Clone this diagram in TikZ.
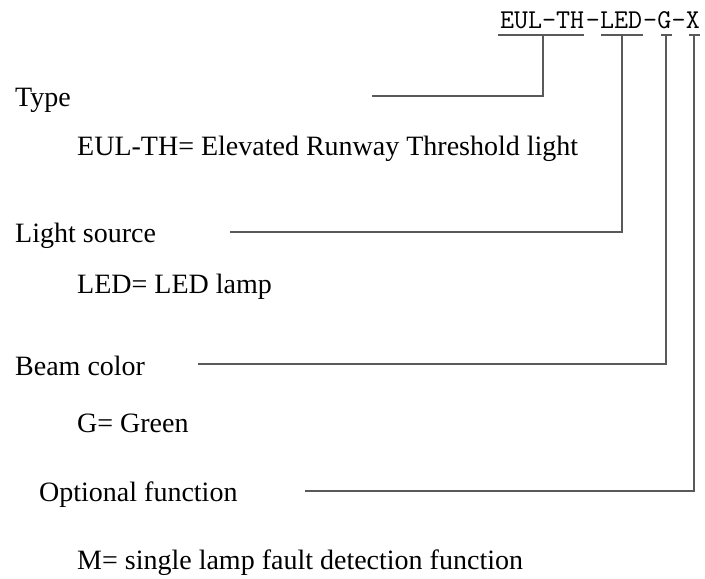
\documentclass[tikz,border=0pt]{standalone}
\usepackage{fontspec}
\setmainfont{Liberation Serif}
\usetikzlibrary{calc}

\tikzset{
  lbl/.style={anchor=base west,inner sep=0pt,font=\fontsize{28}{32}\selectfont},
  code/.style={anchor=base west,inner sep=0pt,font=\ttfamily\fontsize{27.2}{30}\selectfont},
  lead/.style={draw=black!65,line width=1.1pt}
}

\begin{document}
\begin{tikzpicture}[x=1pt,y=-1pt]
\useasboundingbox (0,0) rectangle (705,579);

% designation code
\node[code] (cType) at (500,28)   {EUL\textendash TH};
\node[code] (d1)    at (585.7,28) {\textendash};
\node[code] (cSrc)  at (600,28)   {LED};
\node[code] (d2)    at (642.8,28) {\textendash};
\node[code] (cCol)  at (657.1,28) {G};
\node[code] (d3)    at (671.4,28) {\textendash};
\node[code] (cOpt)  at (685.7,28) {X};

% labels
\node[lbl] (ty)  at (15,106)  {Type};
\node[lbl] (tyx) at (77,155)  {EUL-TH= Elevated Runway Threshold light};
\node[lbl] (ls)  at (15,242)  {Light source};
\node[lbl] (lsx) at (77,293)  {LED= LED lamp};
\node[lbl] (bc)  at (15,375)  {Beam color};
\node[lbl] (bcx) at (77,432)  {G= Green};
\node[lbl] (of)  at (39,501)  {Optional function};
\node[lbl] (ofx) at (77,569)  {M= single lamp fault detection function};

% line ends
\coordinate (tyEnd) at (372,96);
\coordinate (lsEnd) at (230,232);
\coordinate (bcEnd) at (198,364);
\coordinate (ofEnd) at (305,491);

\coordinate (uType) at (543,35);
\coordinate (uSrc)  at (622,35);
\coordinate (uCol)  at (666,35);
\coordinate (uOpt)  at (694,35);

% underlines
\draw[lead] (498,35) -- (584,35);
\draw[lead] (601,35) -- (643,35);
\draw[lead] (661,35) -- (672,35);
\draw[lead] (689,35) -- (700,35);

% leaders
\draw[lead] (uType) |- (tyEnd);
\draw[lead] (uSrc)  |- (lsEnd);
\draw[lead] (uCol)  |- (bcEnd);
\draw[lead] (uOpt)  |- (ofEnd);

\end{tikzpicture}
\end{document}
